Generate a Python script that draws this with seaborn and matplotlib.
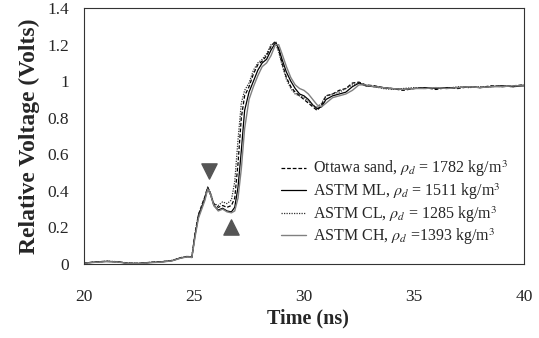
import matplotlib
matplotlib.use("Agg")
import matplotlib.pyplot as plt
import seaborn as sns
import pandas as pd

# Time axis (ns) shared by all four records
time_ns = [20, 20.5, 21, 21.5, 22, 22.5, 23, 23.5, 24, 24.4, 24.7, 24.9, 25.05, 25.2, 25.35,
           25.5, 25.62, 25.75, 25.9, 26.1, 26.3, 26.5, 26.7, 26.85, 27.0, 27.15, 27.3, 27.5,
           27.7, 27.9, 28.1, 28.3, 28.5, 28.7, 28.85, 29.0, 29.2, 29.4, 29.6, 29.8, 30.0, 30.2,
           30.4, 30.6, 30.8, 31.0, 31.3, 31.6, 31.9, 32.2, 32.5, 32.8, 33.2, 33.6, 34.0, 34.5,
           35.0, 35.5, 36.0, 36.5, 37.0, 37.5, 38.0, 38.5, 39.0, 39.5, 40.0]

ottawa = [0.005, 0.011, 0.015, 0.012, 0.004, 0.003, 0.009, 0.012, 0.019, 0.034, 0.041, 0.037,
          0.17, 0.27, 0.32, 0.37, 0.42, 0.38, 0.33, 0.31, 0.32, 0.31, 0.32, 0.36, 0.55, 0.80,
          0.92, 0.97, 1.04, 1.09, 1.11, 1.14, 1.19, 1.22, 1.17, 1.10, 1.02, 0.97, 0.94, 0.92,
          0.90, 0.88, 0.86, 0.84, 0.87, 0.92, 0.93, 0.95, 0.96, 0.99, 0.995, 0.98, 0.975,
          0.965, 0.96, 0.95, 0.96, 0.965, 0.955, 0.965, 0.96, 0.97, 0.965, 0.975, 0.97,
          0.975, 0.98]
astm_ml = [0.005, 0.010, 0.014, 0.012, 0.004, 0.003, 0.008, 0.011, 0.018, 0.033, 0.040, 0.036,
           0.16, 0.26, 0.31, 0.36, 0.415, 0.38, 0.32, 0.295, 0.305, 0.29, 0.285, 0.31, 0.42,
           0.62, 0.84, 0.94, 1.00, 1.06, 1.10, 1.12, 1.17, 1.21, 1.18, 1.12, 1.05, 1.00, 0.96,
           0.93, 0.92, 0.90, 0.87, 0.85, 0.86, 0.90, 0.92, 0.93, 0.94, 0.97, 0.99, 0.975,
           0.97, 0.965, 0.96, 0.955, 0.96, 0.965, 0.96, 0.965, 0.965, 0.97, 0.965, 0.97,
           0.975, 0.97, 0.975]
astm_cl = [0.006, 0.010, 0.015, 0.013, 0.005, 0.004, 0.009, 0.012, 0.020, 0.035, 0.042, 0.038,
           0.17, 0.27, 0.32, 0.37, 0.42, 0.39, 0.33, 0.32, 0.34, 0.33, 0.35, 0.45, 0.68, 0.88,
           0.95, 0.99, 1.06, 1.10, 1.12, 1.15, 1.20, 1.21, 1.16, 1.09, 1.01, 0.96, 0.93, 0.92,
           0.91, 0.89, 0.87, 0.855, 0.88, 0.92, 0.93, 0.94, 0.96, 0.98, 0.99, 0.975, 0.97,
           0.96, 0.955, 0.96, 0.965, 0.96, 0.965, 0.96, 0.97, 0.965, 0.97, 0.97, 0.975,
           0.97, 0.98]
astm_ch = [0.004, 0.009, 0.013, 0.011, 0.003, 0.002, 0.007, 0.010, 0.017, 0.032, 0.039, 0.035,
           0.15, 0.25, 0.30, 0.35, 0.41, 0.38, 0.32, 0.29, 0.30, 0.285, 0.28, 0.29, 0.36,
           0.52, 0.74, 0.90, 0.97, 1.03, 1.08, 1.10, 1.14, 1.20, 1.20, 1.15, 1.08, 1.02, 0.98,
           0.96, 0.95, 0.93, 0.90, 0.87, 0.86, 0.88, 0.91, 0.92, 0.93, 0.95, 0.98, 0.98,
           0.97, 0.965, 0.96, 0.955, 0.96, 0.96, 0.965, 0.96, 0.965, 0.97, 0.965, 0.97,
           0.97, 0.975, 0.975]

labels = [r"Ottawa sand, $\rho_d$ = 1782 kg/m$^3$",
          r"ASTM ML, $\rho_d$ = 1511 kg/m$^3$",
          r"ASTM CL, $\rho_d$ = 1285 kg/m$^3$",
          r"ASTM CH, $\rho_d$ =1393 kg/m$^3$"]
series = [ottawa, astm_ml, astm_cl, astm_ch]

# Arrow-head markers flagging the first peak and the following trough
peak_mark = (25.68, 0.51)
trough_mark = (26.68, 0.20)

sns.set_style("white")
plt.rcParams["font.family"] = ["Liberation Serif", "DejaVu Serif"]
plt.rcParams["mathtext.fontset"] = "stix"

fig = plt.figure(figsize=(5.39, 3.38), dpi=100)
ax = fig.add_axes([0.156, 0.219, 0.816, 0.757])

styles = [dict(color="black", linestyle=(0, (3, 1.5)), linewidth=0.9),
          dict(color="black", linestyle="-", linewidth=0.9),
          dict(color="#333333", linestyle=(0, (1, 1)), linewidth=0.9),
          dict(color="#808080", linestyle="-", linewidth=1.0)]

for vals, lab, st in zip(series, labels, styles):
    df = pd.DataFrame({"t": time_ns, "v": vals})
    sns.lineplot(data=df, x="t", y="v", ax=ax, label=lab, **st)

ax.scatter([peak_mark[0]], [peak_mark[1]], marker="v", s=120, color="#555555", zorder=5)
ax.scatter([trough_mark[0]], [trough_mark[1]], marker="^", s=120, color="#555555", zorder=5)

ax.set_xlim(20, 40)
ax.set_ylim(0, 1.4)
ax.set_xticks([20, 25, 30, 35, 40])
ax.set_yticks([0, 0.2, 0.4, 0.6, 0.8, 1.0, 1.2, 1.4])
ax.set_yticklabels(["0", "0.2", "0.4", "0.6", "0.8", "1", "1.2", "1.4"])
ax.tick_params(axis="both", direction="out", length=5, width=0.8, color="#444444",
               labelsize=12.5, pad=6)
ax.tick_params(axis="x", pad=13)
for s in ax.spines.values():
    s.set_color("#333333")
    s.set_linewidth(0.8)

ax.set_xlabel("Time (ns)", fontsize=14.5, fontweight="bold", labelpad=2)
ax.set_ylabel("Relative Voltage (Volts)", fontsize=17, fontweight="bold", labelpad=5)
ax.xaxis.set_label_coords(0.51, -0.175)

ax.legend(loc="lower right", frameon=False, fontsize=11.5, handlelength=1.6,
          handletextpad=0.4, labelspacing=0.12, bbox_to_anchor=(0.995, 0.01))

fig.savefig("out.png", dpi=100)
